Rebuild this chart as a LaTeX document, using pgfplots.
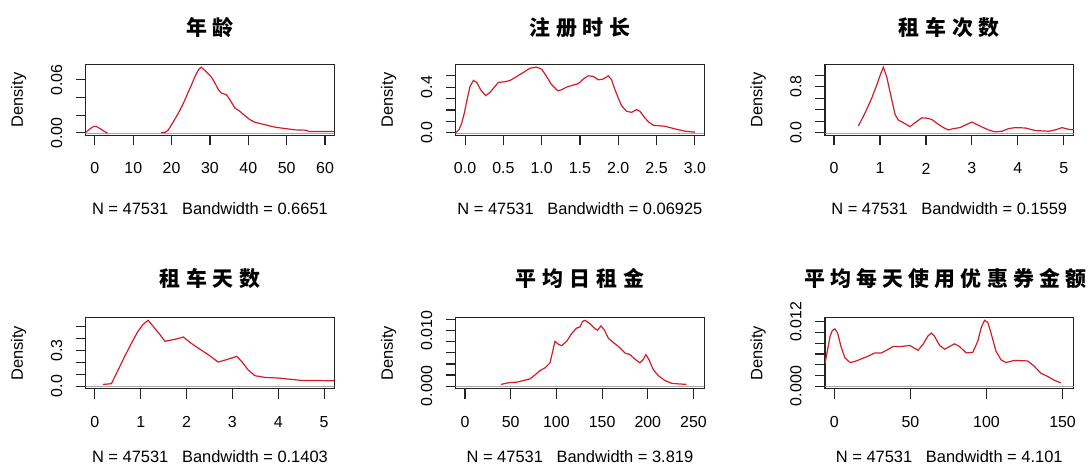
\documentclass[border=0pt]{standalone}
\usepackage{pgfplots}
\pgfplotsset{compat=1.18}
\usepackage{fontspec}
\setmainfont{Liberation Sans}
\newfontfamily\cjk[LetterSpace=28]{Noto Sans CJK SC}
\newfontfamily\cjknarrow[LetterSpace=25]{Noto Sans CJK SC}
\definecolor{curve}{RGB}{210,28,42}
\definecolor{boxc}{RGB}{35,35,35}
\pgfplotsset{
  every axis title shift=0pt,
  dens/.style={curve, line width=1.2bp, mark=none},
  zl/.style={gray!70, line width=0.6bp, mark=none},
  rpanel/.style={
    scale only axis, width=248.5bp, height=71bp,
    axis line style={boxc, line width=1.3bp},
    tick align=outside, major tick length=10bp,
    tick style={boxc, line width=1.1bp},
    xtick pos=bottom, ytick pos=left,
    scaled ticks=false, no markers,
    font=\fontsize{16}{16}\selectfont,
    xticklabel style={anchor=center, yshift=-23bp},
    yticklabel style={rotate=90, anchor=center, yshift=19bp},
    title style={at={(axis description cs:0.5,1)}, anchor=center, font=\cjk\bfseries\fontsize{21}{21}\selectfont},
    xlabel style={at={(axis description cs:0.5,0)}, anchor=center, font=\fontsize{16.5}{17}\selectfont},
    ylabel style={at={(axis description cs:0,0.5)}, anchor=center, yshift=67bp, font=\fontsize{16.5}{17}\selectfont},
    ylabel={Density},
  },
  rowone/.style={title style={yshift=36.5bp}, xlabel style={yshift=-73bp}},
  rowtwo/.style={title style={yshift=39.5bp}, xlabel style={yshift=-68bp}},
}
\begin{document}
\begin{tikzpicture}
\path[use as bounding box] (0,0) rectangle (1091bp,466bp);

% Panel 1
\begin{axis}[rpanel, rowone, at={(85.7bp,330.5bp)},
  xmin=-2.4, xmax=62.4, ymin=-0.00297, ymax=0.0773,
  xtick={0,10,20,30,40,50,60}, xticklabels={0,10,20,30,40,50,60},
  ytick={0,0.02,0.04,0.06}, yticklabels={0.00,,,0.06},
  title={年龄}, xlabel={N = 47531\ \ \ Bandwidth = 0.6651}]
\addplot[zl] coordinates {(-5,0) (70,0)};
\addplot[dens] coordinates {
(-2.4,0.0005) (-1.3,0.0045) (-0.4,0.0071) (0.4,0.0071) (1.3,0.0049) (2.8,0.0008) (3.3,0)};
\addplot[dens] coordinates {
(17.3,0) (17.6,0.0004) (18.4,0.0008) (19.1,0.003) (20,0.0094) (20.9,0.0158) (21.7,0.0218) (22.6,0.0293)
(23.5,0.0375) (24.3,0.0458) (25.2,0.0544) (26.1,0.0638) (27,0.0713) (27.7,0.0743) (28.7,0.0705)
(29.6,0.0668) (30.4,0.063) (31.3,0.0563) (32.2,0.0488) (33,0.045) (34.3,0.0431) (35.2,0.0375)
(36.5,0.0281) (37.8,0.0244) (39.1,0.0195) (40.4,0.015) (41.7,0.012) (43.5,0.0101) (45.2,0.0083)
(47,0.0064) (49.6,0.0049) (52.2,0.0034) (55.2,0.003) (55.7,0.0015) (62.4,0.0015)};
\end{axis}

% Panel 2
\begin{axis}[rpanel, rowone, at={(455.7bp,330.5bp)},
  xmin=-0.122, xmax=3.122, ymin=-0.023, ymax=0.599,
  xtick={0,0.5,1,1.5,2,2.5,3}, xticklabels={0.0,0.5,1.0,1.5,2.0,2.5,3.0},
  ytick={0,0.1,0.2,0.3,0.4,0.5}, yticklabels={0.0,,,,0.4,},
  title={注册时长}, xlabel={N = 47531\ \ \ Bandwidth = 0.06925}]
\addplot[zl] coordinates {(-1,0) (4,0)};
\addplot[dens] coordinates {
(-0.122,0) (-0.078,0.029) (-0.043,0.087) (-0.009,0.174) (0.026,0.29) (0.065,0.407) (0.109,0.459)
(0.152,0.442) (0.209,0.372) (0.27,0.326) (0.326,0.355) (0.391,0.407) (0.435,0.442) (0.522,0.448)
(0.587,0.459) (0.674,0.494) (0.761,0.529) (0.848,0.567) (0.935,0.576) (1.0,0.558) (1.065,0.494)
(1.13,0.422) (1.209,0.369) (1.26,0.378) (1.326,0.401) (1.413,0.419) (1.478,0.43) (1.543,0.471)
(1.609,0.5) (1.674,0.494) (1.739,0.465) (1.804,0.471) (1.87,0.5) (1.913,0.465) (1.957,0.378)
(2.0,0.305) (2.043,0.238) (2.109,0.189) (2.174,0.18) (2.239,0.203) (2.283,0.189) (2.348,0.131)
(2.4,0.093) (2.457,0.067) (2.609,0.058) (2.739,0.035) (2.87,0.015) (3.0,0.006)};
\end{axis}

% Panel 3
\begin{axis}[rpanel, rowone, at={(825bp,330.5bp)},
  xmin=-0.196, xmax=5.21, ymin=-0.0456, ymax=1.186,
  xtick={0,1,2,3,4,5}, xticklabels={0,1,2,3,4,5},
  ytick={0,0.2,0.4,0.6,0.8,1.0}, yticklabels={0.0,,,,0.8,},
  title={租车次数}, xlabel={N = 47531\ \ \ Bandwidth = 0.1559}]
\addplot[zl] coordinates {(-1,0) (6,0)};
\addplot[dens] coordinates {
(0.53,0.119) (0.675,0.346) (0.82,0.601) (0.929,0.828) (1.016,1.027) (1.074,1.14) (1.147,0.97)
(1.241,0.63) (1.328,0.318) (1.40,0.221) (1.51,0.176) (1.655,0.108) (1.763,0.176) (1.908,0.261)
(2.017,0.255) (2.126,0.233) (2.27,0.148) (2.38,0.091) (2.49,0.051) (2.6,0.074) (2.74,0.091)
(2.89,0.148) (3.0,0.187) (3.1,0.148) (3.25,0.091) (3.36,0.051) (3.5,0.017) (3.65,0.028)
(3.8,0.074) (3.94,0.091) (4.16,0.085) (4.38,0.04) (4.67,0.028) (4.81,0.051) (4.96,0.091)
(5.1,0.062) (5.21,0.051)};
\end{axis}

% Panel 4
\begin{axis}[rpanel, rowtwo, at={(85.7bp,77.3bp)},
  xmin=-0.2, xmax=5.22, ymin=-0.0222, ymax=0.578,
  xtick={0,1,2,3,4,5}, xticklabels={0,1,2,3,4,5},
  ytick={0,0.1,0.2,0.3,0.4,0.5}, yticklabels={0.0,,,0.3,,},
  title={租车天数}, xlabel={N = 47531\ \ \ Bandwidth = 0.1403}]
\addplot[zl] coordinates {(-1,0) (6,0)};
\addplot[dens] coordinates {
(0.18,0.014) (0.36,0.02) (0.51,0.138) (0.65,0.251) (0.8,0.364) (0.94,0.463) (1.05,0.52)
(1.16,0.556) (1.27,0.506) (1.42,0.435) (1.53,0.379) (1.64,0.387) (1.78,0.398) (1.93,0.415)
(2.07,0.37) (2.25,0.322) (2.47,0.266) (2.69,0.203) (2.87,0.223) (3.09,0.251) (3.2,0.209)
(3.34,0.138) (3.49,0.088) (3.71,0.073) (4.0,0.068) (4.22,0.059) (4.51,0.048) (5.22,0.045)};
\end{axis}

% Panel 5
\begin{axis}[rpanel, rowtwo, at={(455.7bp,77.3bp)},
  xmin=-10.2, xmax=261.7, ymin=-0.000476, ymax=0.01238,
  xtick={0,50,100,150,200,250}, xticklabels={0,50,100,150,200,250},
  ytick={0,0.002,0.004,0.006,0.008,0.010,0.012}, yticklabels={0.000,,,,,0.010,},
  title={平均日租金}, xlabel={N = 47531\ \ \ Bandwidth = 3.819}]
\addplot[zl] coordinates {(-20,0) (300,0)};
\addplot[dens] coordinates {
(39.4,0.0003) (47.4,0.0006) (56.5,0.0007) (63.8,0.001) (71.1,0.0013) (76.5,0.002) (82,0.0028)
(87.5,0.0033) (93,0.0042) (95.5,0.006) (98.4,0.0081) (102,0.0076) (105.7,0.0073) (111.2,0.0081)
(116.6,0.0095) (122.1,0.0105) (125.7,0.0107) (128.6,0.0117) (131.2,0.0119) (136.7,0.0113)
(141.4,0.0105) (145,0.0101) (148.7,0.0109) (152.3,0.0102) (156.7,0.0087) (162.2,0.0079)
(167.6,0.0072) (174.9,0.006) (180.4,0.0057) (185.8,0.0049) (191.3,0.0042) (195,0.0048)
(197.9,0.0057) (201.2,0.0048) (205.9,0.003) (211.4,0.0019) (218.7,0.001) (226,0.0005)
(233.2,0.0004) (242.3,0.0003)};
\end{axis}

% Panel 6
\begin{axis}[rpanel, rowtwo, at={(825bp,77.3bp)},
  xmin=-6.1, xmax=157.2, ymin=-0.000492, ymax=0.01279,
  xtick={0,50,100,150}, xticklabels={0,50,100,150},
  ytick={0,0.002,0.004,0.006,0.008,0.010,0.012}, yticklabels={0.000,,,,,,0.012},
  title style={xshift=-4bp, font=\cjknarrow\bfseries\fontsize{21}{21}\selectfont},
  title={平均每天使用优惠券金额}, xlabel={N = 47531\ \ \ Bandwidth = 4.101}]
\addplot[zl] coordinates {(-10,0) (170,0)};
\addplot[dens] coordinates {
(-6.1,0.0043) (-4.4,0.0068) (-2.8,0.0093) (-1.3,0.0104) (0.4,0.0107) (2.2,0.0099) (4.4,0.0074)
(7,0.0053) (10.3,0.0044) (13.5,0.0046) (17.9,0.0051) (22.3,0.0056) (26.6,0.0062) (31,0.0062)
(34.3,0.0067) (38.6,0.0074) (44.1,0.0074) (49.6,0.0076) (55,0.0067) (58.3,0.0078) (61.6,0.0094)
(63.8,0.0099) (65.9,0.0093) (69.2,0.0076) (72.5,0.0069) (75.8,0.0074) (79,0.0079) (82.3,0.0074)
(86.7,0.0062) (91,0.0063) (94.3,0.0084) (96.5,0.0109) (98.7,0.0123) (100.9,0.0119) (103,0.0099)
(106.3,0.0065) (109.6,0.0049) (112.9,0.0044) (118.3,0.0048) (127.1,0.0047) (131.4,0.0037)
(135.8,0.0024) (140.2,0.0018) (144.5,0.0011) (148.9,0.0006)};
\end{axis}
\end{tikzpicture}
\end{document}
